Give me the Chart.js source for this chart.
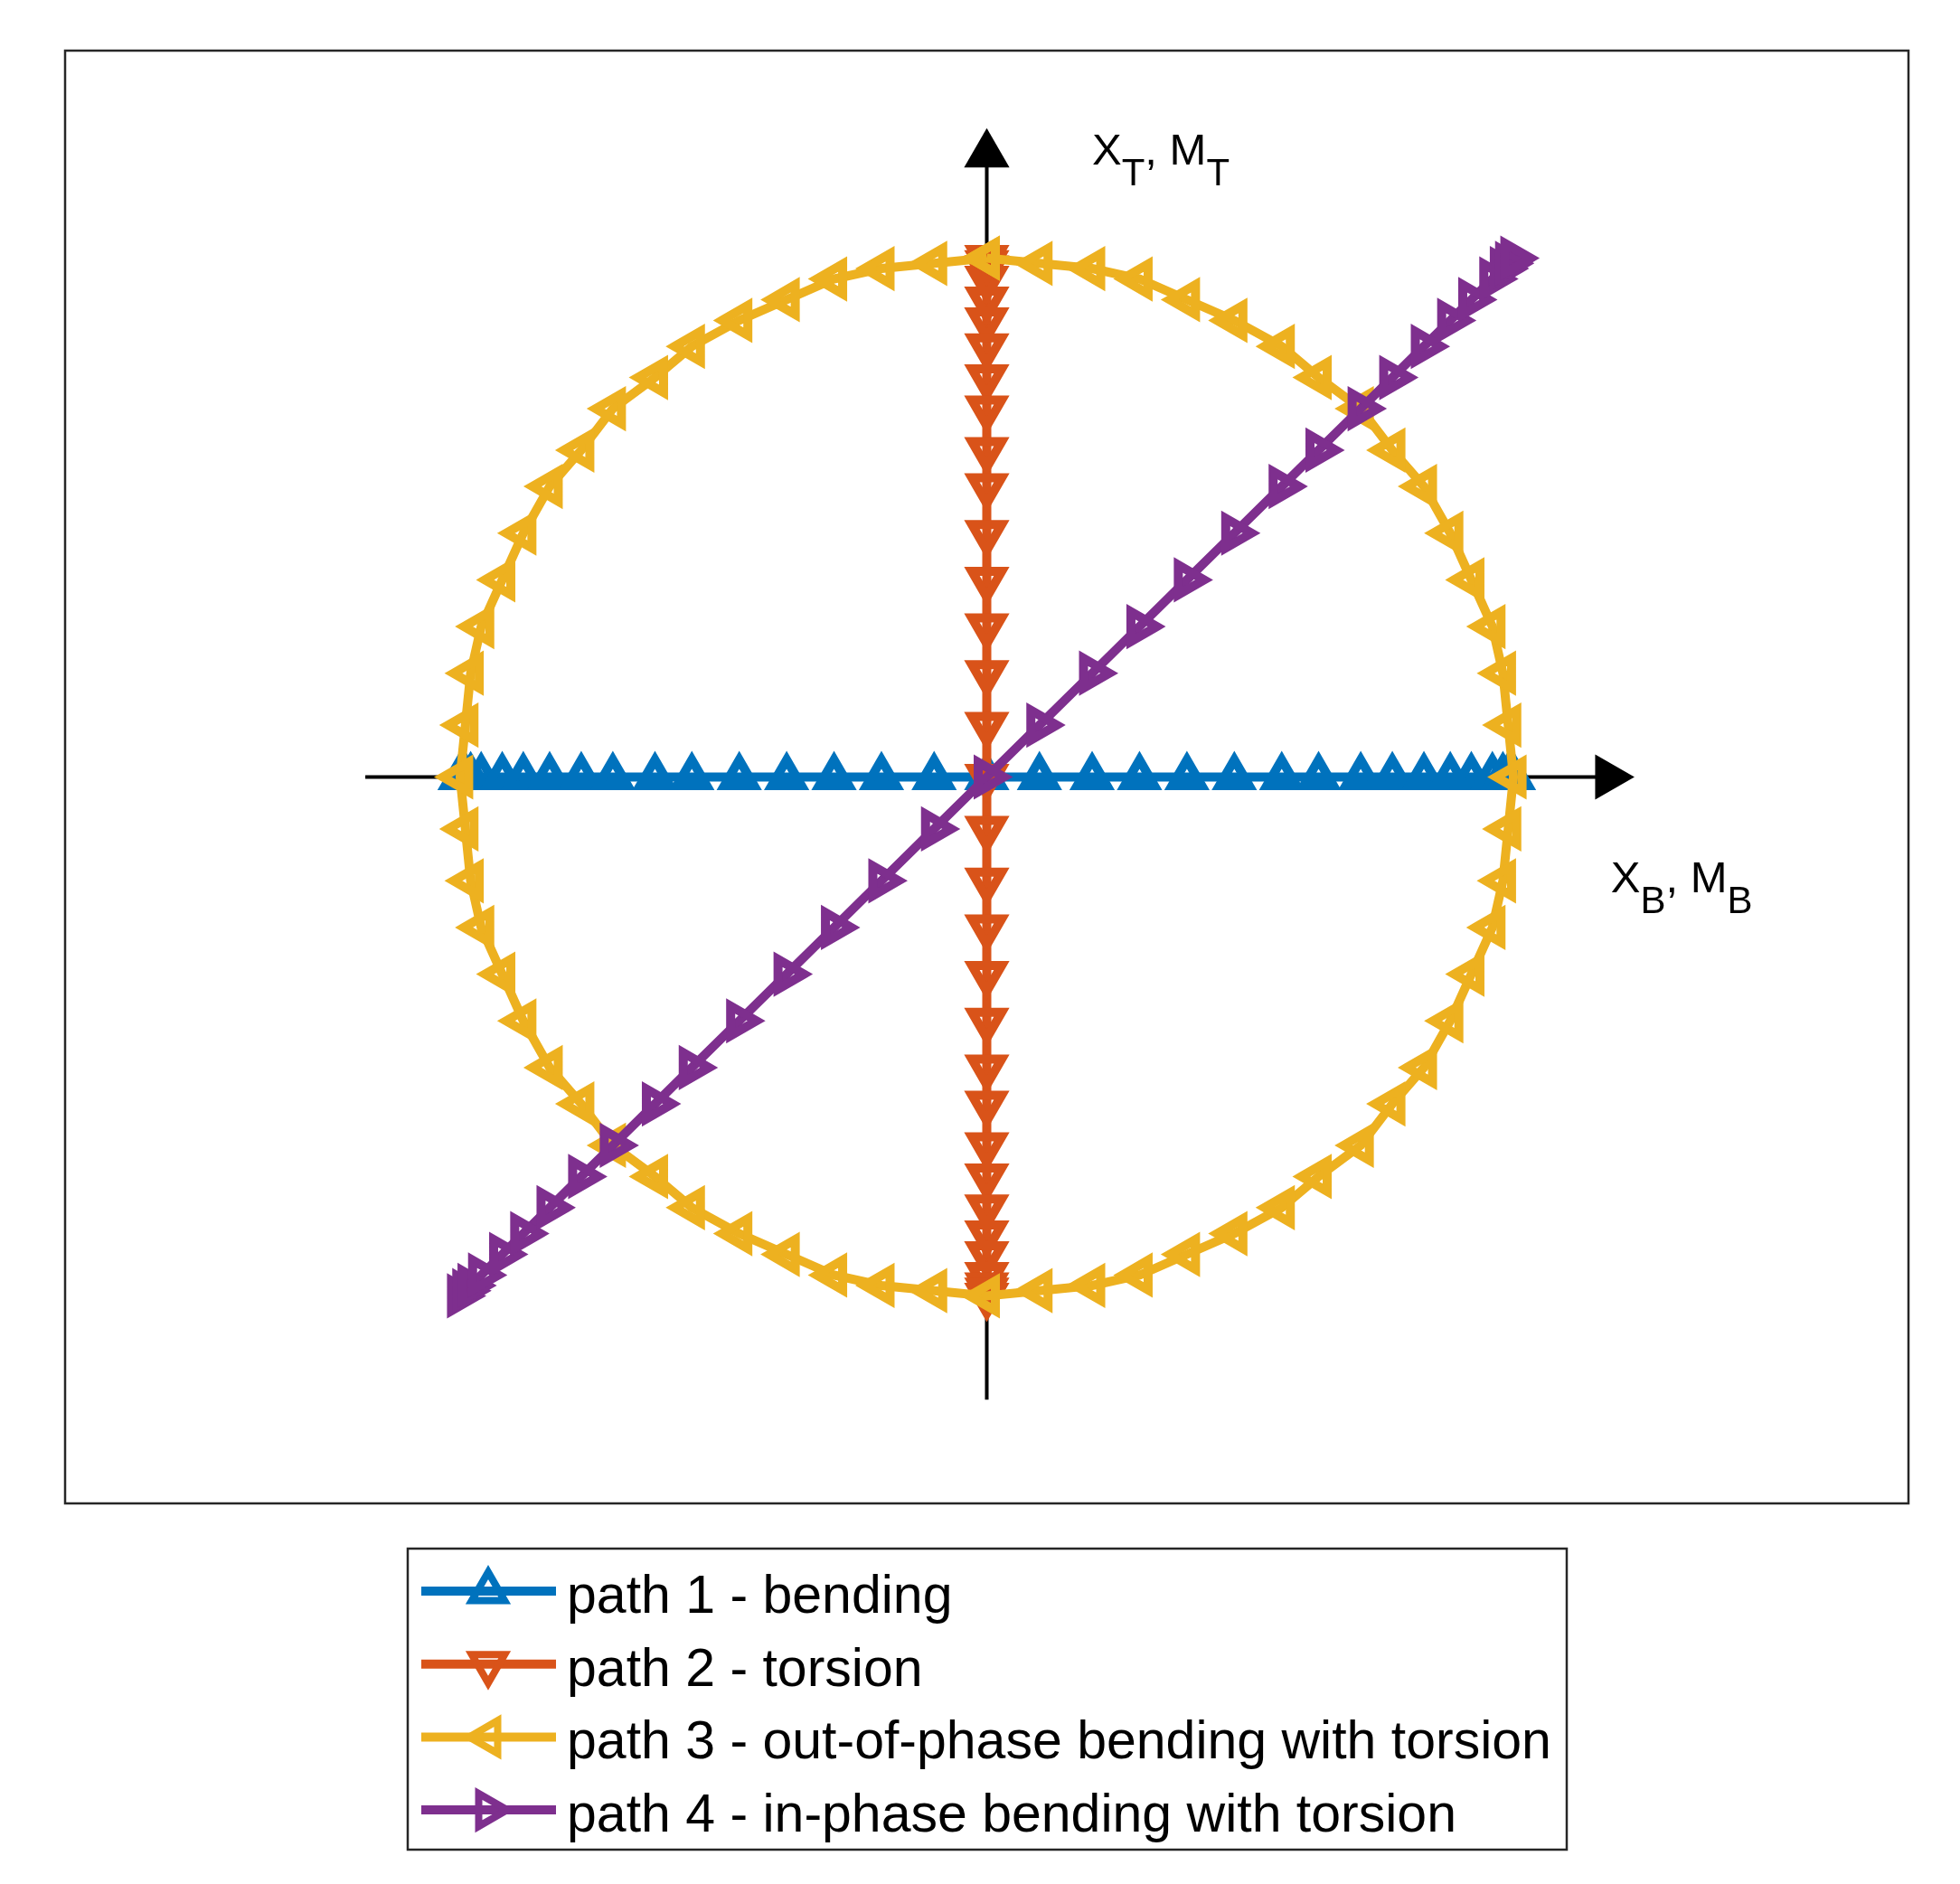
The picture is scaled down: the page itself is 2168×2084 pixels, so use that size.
<!DOCTYPE html>
<html>
<head>
<meta charset="utf-8">
<script src="https://cdn.jsdelivr.net/npm/chart.js@4.4.1/dist/chart.umd.min.js"></script>
<style>
  html, body { margin: 0; padding: 0; background: #fff; }
  #wrap { width: 2168px; height: 2084px; }
</style>
</head>
<body>
<div id="wrap"><canvas id="chart" width="2168" height="2084"></canvas></div>
<script>
// Loading path samples (amplitude normalised to 1)
const sweep = [-1.00, -0.99, -0.98, -0.96, -0.92, -0.88, -0.83, -0.77, -0.71, -0.63, -0.56, -0.47, -0.38, -0.29, -0.20, -0.10,
    0, 0.10, 0.20, 0.29, 0.38, 0.47, 0.56, 0.63, 0.71, 0.77, 0.83, 0.88, 0.92, 0.96, 0.98, 0.99, 1.00];

// out-of-phase path, X_B and X_T
const circleX = [0, 0.10, 0.20, 0.29, 0.38, 0.47, 0.56, 0.63, 0.71, 0.77, 0.83, 0.88, 0.92, 0.96, 0.98, 0.99, 1.00,
    0.99, 0.98, 0.96, 0.92, 0.88, 0.83, 0.77, 0.71, 0.63, 0.56, 0.47, 0.38, 0.29, 0.20, 0.10, 0,
    -0.10, -0.20, -0.29, -0.38, -0.47, -0.56, -0.63, -0.71, -0.77, -0.83, -0.88, -0.92, -0.96, -0.98, -0.99, -1.00,
    -0.99, -0.98, -0.96, -0.92, -0.88, -0.83, -0.77, -0.71, -0.63, -0.56, -0.47, -0.38, -0.29, -0.20, -0.10, 0];
const circleY = [1.00, 0.99, 0.98, 0.96, 0.92, 0.88, 0.83, 0.77, 0.71, 0.63, 0.56, 0.47, 0.38, 0.29, 0.20, 0.10, 0,
    -0.10, -0.20, -0.29, -0.38, -0.47, -0.56, -0.63, -0.71, -0.77, -0.83, -0.88, -0.92, -0.96, -0.98, -0.99, -1.00,
    -0.99, -0.98, -0.96, -0.92, -0.88, -0.83, -0.77, -0.71, -0.63, -0.56, -0.47, -0.38, -0.29, -0.20, -0.10, 0,
    0.10, 0.20, 0.29, 0.38, 0.47, 0.56, 0.63, 0.71, 0.77, 0.83, 0.88, 0.92, 0.96, 0.98, 0.99, 1.00];

const pathLabels = [
    'path 1 - bending',
    'path 2 - torsion',
    'path 3 - out-of-phase bending with torsion',
    'path 4 - in-phase bending with torsion'
];

// axis arrows, in data units
const axisBX = [-1.18, 1.18];
const axisTY = [-1.2, 1.2];

const pathColors = ['#0072BD', '#D95319', '#EDB120', '#7E2F8E'];
const markerRot = [0, 180, 270, 90];   // ^ v < >

function pathSet(i, points) {
    return {
        label: pathLabels[i],
        data: points,
        showLine: true,
        borderColor: pathColors[i],
        borderWidth: 10,
        pointStyle: 'triangle',
        rotation: markerRot[i],
        pointRadius: 19,
        pointBorderWidth: 10,
        pointBorderColor: pathColors[i],
        pointBackgroundColor: 'rgba(0,0,0,0)',
        order: 4 - i
    };
}

function axisSet(points, rot) {
    return {
        label: '',
        data: points,
        showLine: true,
        borderColor: '#000',
        borderWidth: 4,
        pointStyle: 'triangle',
        rotation: rot,
        pointRadius: [0, 29],
        pointBorderWidth: 0,
        pointBackgroundColor: '#000',
        order: 10
    };
}

const datasets = [
    pathSet(0, sweep.map(v => ({x: v, y: 0}))),
    pathSet(1, sweep.map(v => ({x: 0, y: -v}))),
    pathSet(2, circleX.map((v, k) => ({x: v, y: circleY[k]}))),
    pathSet(3, sweep.map(v => ({x: v, y: v}))),
    axisSet([{x: axisBX[0], y: 0}, {x: axisBX[1], y: 0}], 90),
    axisSet([{x: 0, y: axisTY[0]}, {x: 0, y: axisTY[1]}], 0)
];

// text with subscripts, e.g. X_T, M_T
function subLabel(ctx, parts, x, y) {
    let cx = x;
    parts.forEach(p => {
        ctx.font = (p.sub ? 42 : 49) + 'px "Liberation Sans", Arial, sans-serif';
        ctx.fillText(p.t, cx, p.sub ? y + 23 : y);
        cx += ctx.measureText(p.t).width;
    });
}

function triangle(ctx, cx, cy, r, rot) {
    const rad = rot * Math.PI / 180;
    ctx.beginPath();
    for (let k = 0; k < 3; k++) {
        const a = rad + k * 2 * Math.PI / 3;
        const px = cx + Math.sin(a) * r, py = cy - Math.cos(a) * r;
        if (k === 0) ctx.moveTo(px, py); else ctx.lineTo(px, py);
    }
    ctx.closePath();
}

const framePlugin = {
    id: 'frame',
    afterDraw(chart) {
        const {ctx, chartArea: a, scales: {x, y}} = chart;
        ctx.save();
        ctx.strokeStyle = '#262626';
        ctx.lineWidth = 2.5;
        ctx.strokeRect(a.left, a.top, a.right - a.left, a.bottom - a.top);

        // axis labels
        ctx.fillStyle = '#000';
        ctx.textBaseline = 'alphabetic';
        subLabel(ctx, [{t: 'X'}, {t: 'T', sub: true}, {t: ', M'}, {t: 'T', sub: true}],
            x.getPixelForValue(0.2), y.getPixelForValue(1.18));
        subLabel(ctx, [{t: 'X'}, {t: 'B', sub: true}, {t: ', M'}, {t: 'B', sub: true}],
            x.getPixelForValue(1.185), y.getPixelForValue(-0.223));

        // legend
        const lx = 451, ly = 1713, lw = 1282, lh = 333;
        ctx.fillStyle = '#fff';
        ctx.fillRect(lx, ly, lw, lh);
        ctx.strokeStyle = '#262626';
        ctx.lineWidth = 2.5;
        ctx.strokeRect(lx, ly, lw, lh);
        for (let i = 0; i < 4; i++) {
            const ds = chart.data.datasets[i];
            const base = 1784 + i * 80.7;
            const my = base - 24;
            ctx.strokeStyle = ds.borderColor;
            ctx.lineWidth = 10;
            ctx.beginPath();
            ctx.moveTo(466, my);
            ctx.lineTo(615, my);
            ctx.stroke();
            ctx.lineWidth = 8;
            triangle(ctx, 540, my, 21, ds.rotation);
            ctx.stroke();
            ctx.fillStyle = '#000';
            ctx.font = '59px "Liberation Sans", Arial, sans-serif';
            ctx.fillText(ds.label, 627, base);
        }
        ctx.restore();
    }
};

new Chart(document.getElementById('chart'), {
    type: 'scatter',
    data: {datasets: datasets},
    options: {
        responsive: false,
        devicePixelRatio: 1,
        animation: false,
        events: [],
        layout: {padding: {left: 72, top: 56, right: 57, bottom: 421}},
        scales: {
            x: {type: 'linear', min: -1.75, max: 1.75, display: false},
            y: {type: 'linear', min: -1.4, max: 1.4, display: false}
        },
        plugins: {
            legend: {display: false},
            tooltip: {enabled: false}
        }
    },
    plugins: [framePlugin]
});
</script>
</body>
</html>
